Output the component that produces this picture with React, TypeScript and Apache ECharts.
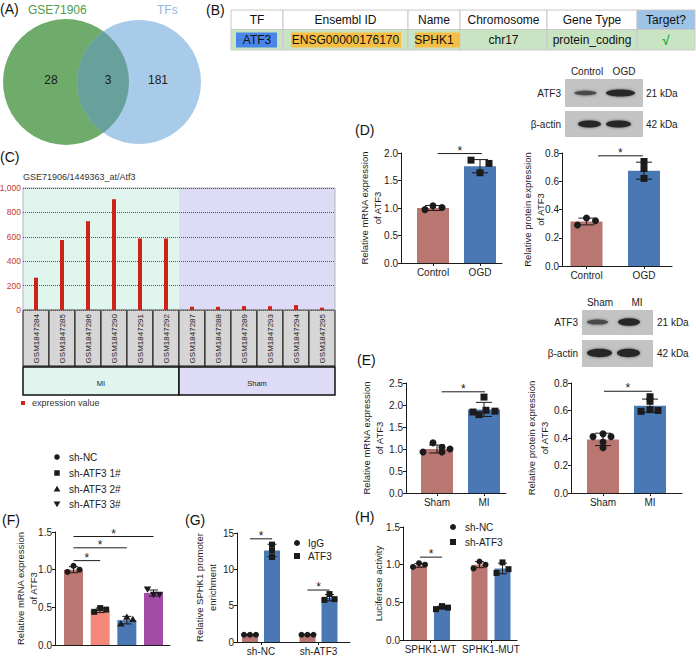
import React, { useEffect, useRef } from "react";
import * as echarts from "echarts";

const FONT = "'Liberation Sans', Arial, Helvetica, sans-serif";
const INK = "#1b1b1b";
const ROSE = "#ba7670";
const BLUE = "#4a78b4";
const SALMON = "#f3887a";
const PURPLE = "#a34ca7";
const MINT = "#e0f5ee";
const LAV = "#dddbf5";

// ---------- (A) Venn ----------
const vennNames = ["GSE71906", "TFs"];
const vennCounts = [28, 3, 181];

// ---------- (B) table ----------
const tableHeaders = ["TF", "Ensembl ID", "Name", "Chromosome", "Gene Type", "Target?"];
const tableValues = ["ATF3", "ENSG00000176170", "SPHK1", "chr17", "protein_coding", "√"];

// ---------- (C) expression profile ----------
const cTitle = "GSE71906/1449363_at/Atf3";
const cSamples = [
  "GSM1847284", "GSM1847285", "GSM1847286", "GSM1847290", "GSM1847291", "GSM1847292",
  "GSM1847287", "GSM1847288", "GSM1847289", "GSM1847293", "GSM1847294", "GSM1847295",
];
const cValues = [265, 574, 728, 908, 586, 586, 27, 26, 32, 31, 40, 19];
const cGroups = ["MI", "Sham"];
const cGroupSizes = [6, 6];
const cLegend = "expression value";

// ---------- western blots ----------
const dLanes = ["Control", "OGD"];
const eLanes = ["Sham", "MI"];
const blotProteins = ["ATF3", "β-actin"];
const blotSizes = ["21 kDa", "42 kDa"];

// ---------- (D) ----------
const dCats = ["Control", "OGD"];
const dMrnaMean = [1.0, 1.76];
const dMrnaSd = [0.045, 0.12];
const dMrnaPts = [[0.97, 1.04, 1.01], [1.87, 1.64, 1.81]];
const dProtMean = [0.315, 0.675];
const dProtSd = [0.024, 0.06];
const dProtPts = [[0.29, 0.34, 0.32], [0.74, 0.69, 0.62]];

// ---------- (E) ----------
const eCats = ["Sham", "MI"];
const eMrnaMean = [1.0, 1.9];
const eMrnaSd = [0.09, 0.16];
const eMrnaPts = [[0.93, 1.14, 1.04, 0.93, 1.0], [1.84, 1.78, 2.18, 1.88, 1.86]];
const eProtMean = [0.39, 0.635];
const eProtSd = [0.045, 0.048];
const eProtPts = [[0.41, 0.43, 0.41, 0.37, 0.33], [0.594, 0.7, 0.667, 0.606, 0.6]];

// ---------- (F) ----------
const fGroups = ["sh-NC", "sh-ATF3 1#", "sh-ATF3 2#", "sh-ATF3 3#"];
const fMean = [1.0, 0.46, 0.33, 0.69];
const fSd = [0.04, 0.03, 0.05, 0.04];
const fPts = [[0.97, 1.05, 1.0], [0.44, 0.49, 0.47], [0.28, 0.37, 0.34], [0.74, 0.67, 0.67]];
const fSig = [[0, 1, 1.12], [0, 2, 1.29], [0, 3, 1.44]];

// ---------- (G) ----------
const gCats = ["sh-NC", "sh-ATF3"];
const gSeries = ["IgG", "ATF3"];
const gMean = [[1.0, 1.0], [12.6, 6.1]];
const gSd = [[0.05, 0.05], [0.85, 0.43]];
const gPts = [[[1.0, 1.0, 1.0], [1.0, 1.0, 1.0]], [[13.4, 12.6, 11.7], [6.6, 5.8, 5.9]]];
const gSig = [[0, 14.2], [1, 7.15]];

// ---------- (H) ----------
const hCats = ["SPHK1-WT", "SPHK1-MUT"];
const hSeries = ["sh-NC", "sh-ATF3"];
const hMean = [[0.99, 1.0], [0.43, 0.95]];
const hSd = [[0.025, 0.04], [0.02, 0.07]];
const hPts = [[[0.97, 1.02, 1.0], [0.95, 1.04, 1.0]], [[0.41, 0.45, 0.43], [0.89, 1.03, 0.94]]];
const hSig = [[0, 1.1]];

// ---------- Venn geometry ----------
const V1 = { cx: 66, cy: 82, r: 63 };
const V2 = { cx: 139, cy: 82, r: 62 };
function lensPath() {
  const d = V2.cx - V1.cx;
  const a = (V1.r * V1.r - V2.r * V2.r + d * d) / (2 * d);
  const h = Math.sqrt(V1.r * V1.r - a * a);
  const ix = V1.cx + a;
  const y1 = V1.cy - h;
  const y2 = V1.cy + h;
  return `M${ix} ${y1} A${V1.r} ${V1.r} 0 0 1 ${ix} ${y2} A${V2.r} ${V2.r} 0 0 1 ${ix} ${y1} Z`;
}
let lensRegistered = false;
function ensureLens() {
  if (lensRegistered) return;
  echarts.graphic.registerShape("vennLens", echarts.graphic.extendPath(lensPath(), {}) as any);
  lensRegistered = true;
}

// ---------- helpers ----------
function txt(t: string, x: number, y: number, size: number, fill: string, align = "left", extra: any = {}) {
  return {
    type: "text",
    x,
    y,
    z: 5,
    style: {
      text: t,
      fontSize: size,
      fontFamily: FONT,
      fill,
      textAlign: align,
      textVerticalAlign: "middle",
      ...extra,
    },
  };
}

function markEl(shape: number, x: number, y: number, s: number, fill: string) {
  const style = { fill };
  if (shape === 0) return { type: "circle", shape: { cx: x, cy: y, r: s / 2 }, style };
  if (shape === 1) return { type: "rect", shape: { x: x - s / 2, y: y - s / 2, width: s, height: s }, style };
  const w = s * 0.62;
  if (shape === 2)
    return { type: "polygon", shape: { points: [[x, y - s * 0.6], [x - w, y + s * 0.45], [x + w, y + s * 0.45]] }, style };
  return { type: "polygon", shape: { points: [[x, y + s * 0.6], [x - w, y - s * 0.45], [x + w, y - s * 0.45]] }, style };
}

type Bar = { x: number; mean: number; sd: number; color: string; pts: number[]; offs: number[]; shape: number };
type Panel = {
  axisX: number; axisEnd: number; yTop: number; y0: number; c0: number; unit: number;
  yMax: number; yStep: number; dec: number;
  ticks: number[]; tickLabels: string[];
  yName: string; nameGap: number;
  barWidth: number; dot: number; cap: number;
  bars: Bar[]; sig: number[][];
};

function singleBars(mean: number[], sd: number[], pts: number[][], offs: number[][], colors: string[], shapes: number[]): Bar[] {
  return mean.map((m, i) => ({ x: i, mean: m, sd: sd[i], color: colors[i], pts: pts[i], offs: offs[i], shape: shapes[i] }));
}

function groupBars(mean: number[][], sd: number[][], pts: number[][][], offs: number[][][], colors: string[], shapes: number[], sub: number): Bar[] {
  const out: Bar[] = [];
  mean.forEach((row, s) => {
    row.forEach((m, c) => {
      out.push({ x: c + (s === 0 ? -sub : sub), mean: m, sd: sd[s][c], color: colors[s], pts: pts[s][c], offs: offs[s][c], shape: shapes[s] });
    });
  });
  return out;
}

function addPanel(p: Panel, grid: any[], xAxis: any[], yAxis: any[], series: any[]) {
  const gi = grid.length;
  grid.push({
    left: p.axisX, top: p.yTop, width: p.axisEnd - p.axisX, height: p.y0 - p.yTop,
    containLabel: false, outerBoundsMode: "none",
  });
  const hasLabels = p.tickLabels.length > 0;
  xAxis.push({
    gridIndex: gi,
    type: "value",
    min: (p.axisX - p.c0) / p.unit,
    max: (p.axisEnd - p.c0) / p.unit,
    axisLine: { show: true, onZero: false, lineStyle: { color: INK, width: 1 } },
    axisTick: { show: hasLabels, customValues: p.ticks, length: 3, lineStyle: { color: INK } },
    axisLabel: {
      show: hasLabels,
      customValues: p.ticks,
      formatter: (v: number) => {
        const k = p.ticks.findIndex((t) => Math.abs(t - v) < 1e-6);
        return k >= 0 ? p.tickLabels[k] : "";
      },
      fontSize: 10, color: INK, margin: 4, fontFamily: FONT,
    },
    splitLine: { show: false },
  });
  yAxis.push({
    gridIndex: gi,
    type: "value",
    min: 0,
    max: p.yMax,
    interval: p.yStep,
    axisLine: { show: true, onZero: false, lineStyle: { color: INK, width: 1 } },
    axisTick: { show: true, length: 3, lineStyle: { color: INK } },
    axisLabel: { formatter: (v: number) => v.toFixed(p.dec), fontSize: 10, color: INK, margin: 3, fontFamily: FONT },
    splitLine: { show: false },
    name: p.yName,
    nameLocation: "middle",
    nameGap: p.nameGap,
    nameRotate: 90,
    nameMoveOverlap: false,
    nameTextStyle: { fontSize: 9.5, lineHeight: 13, color: INK, fontFamily: FONT },
  });
  series.push({
    type: "bar",
    xAxisIndex: gi,
    yAxisIndex: gi,
    barWidth: p.barWidth,
    data: p.bars.map((b) => ({ value: [b.x, b.mean], itemStyle: { color: b.color } })),
    z: 2,
  });
  const cap = p.cap;
  series.push({
    type: "custom",
    xAxisIndex: gi,
    yAxisIndex: gi,
    encode: { x: 0, y: 1 },
    z: 3,
    data: p.bars.map((b) => [b.x, b.mean, b.sd]),
    renderItem: (params: any, api: any) => {
      const x = api.value(0), m = api.value(1), s = api.value(2);
      const t = api.coord([x, m + s]);
      const b = api.coord([x, m - s]);
      const st = { stroke: INK, lineWidth: 1 };
      return {
        type: "group",
        children: [
          { type: "line", shape: { x1: t[0], y1: t[1], x2: b[0], y2: b[1] }, style: st },
          { type: "line", shape: { x1: t[0] - cap, y1: t[1], x2: t[0] + cap, y2: t[1] }, style: st },
          { type: "line", shape: { x1: b[0] - cap, y1: b[1], x2: b[0] + cap, y2: b[1] }, style: st },
        ],
      };
    },
  });
  const dots: number[][] = [];
  p.bars.forEach((b) => b.pts.forEach((v, k) => dots.push([b.x, v, b.offs[k], b.shape, p.dot])));
  series.push({
    type: "custom",
    xAxisIndex: gi,
    yAxisIndex: gi,
    encode: { x: 0, y: 1 },
    z: 4,
    data: dots,
    renderItem: (params: any, api: any) => {
      const c = api.coord([api.value(0), api.value(1)]);
      return markEl(api.value(3), c[0] + api.value(2), c[1], api.value(4), INK);
    },
  });
  series.push({
    type: "custom",
    xAxisIndex: gi,
    yAxisIndex: gi,
    encode: { x: [0, 1], y: 2 },
    z: 4,
    data: p.sig,
    renderItem: (params: any, api: any) => {
      const a = api.coord([api.value(0), api.value(2)]);
      const b = api.coord([api.value(1), api.value(2)]);
      return {
        type: "group",
        children: [
          { type: "line", shape: { x1: a[0], y1: a[1], x2: b[0], y2: b[1] }, style: { stroke: INK, lineWidth: 1 } },
          {
            type: "text",
            x: (a[0] + b[0]) / 2,
            y: a[1] - 3,
            style: { text: "*", fontSize: 12, fontFamily: FONT, fill: INK, textAlign: "center", textVerticalAlign: "middle" },
          },
        ],
      };
    },
  });
}

function blot(g: any[], cfg: any) {
  cfg.rows.forEach((r: number[], i: number) => {
    g.push({ type: "rect", shape: { x: cfg.x0, y: r[0], width: cfg.w, height: r[1] }, style: { fill: "#c3c3c3" } });
    g.push(txt(blotProteins[i], cfg.labelRight, r[0] + r[1] / 2, 10, INK, "right"));
    g.push(txt(blotSizes[i], cfg.sizeLeft, r[0] + r[1] / 2, 10, INK, "left"));
  });
  cfg.lanes.forEach((l: string, i: number) => g.push(txt(l, cfg.laneX[i], cfg.laneY, 10, INK, "center")));
  cfg.bands.forEach((b: number[]) =>
    g.push({
      type: "ellipse",
      z: 1,
      shape: { cx: b[0], cy: b[1], rx: b[2], ry: b[3] },
      style: { fill: b[4] === 1 ? "#262626" : "#4a4a4a", shadowBlur: 3, shadowColor: "rgba(0,0,0,0.55)" },
    })
  );
}

function legend(g: any[], mx: number, tx: number, ys: number[], names: string[], shapes: number[], s: number) {
  names.forEach((n, i) => {
    g.push({ ...markEl(shapes[i], mx, ys[i], s, INK), z: 5 });
    g.push(txt(n, tx, ys[i], 10, INK, "left"));
  });
}

function buildOption() {
  ensureLens();
  const grid: any[] = [];
  const xAxis: any[] = [];
  const yAxis: any[] = [];
  const series: any[] = [];
  const graphic: any[] = [];

  // ---------------- (A) Venn ----------------
  graphic.push({ type: "circle", shape: { cx: V1.cx, cy: V1.cy, r: V1.r }, style: { fill: "#6fac6c" } });
  graphic.push({ type: "circle", shape: { cx: V2.cx, cy: V2.cy, r: V2.r }, style: { fill: "#a8cbe9" } });
  graphic.push({ type: "vennLens", x: 0, y: 0, style: { fill: "#68a19c" } });
  graphic.push(txt(vennNames[0], 28, 10, 12, "#4e9b4c", "left"));
  graphic.push(txt(vennNames[1], 157, 10, 12, "#8db7de", "left"));
  graphic.push(txt(String(vennCounts[0]), 51, 80, 12, INK, "center"));
  graphic.push(txt(String(vennCounts[1]), 108, 80, 12, INK, "center"));
  graphic.push(txt(String(vennCounts[2]), 158, 80, 12, INK, "center"));

  // ---------------- (B) table ----------------
  const cols = [231, 283, 408, 460, 547, 637, 695];
  const hy = 10, hh = 19.5, dy = 29.5, dh = 20.5;
  tableHeaders.forEach((h, j) => {
    const x = cols[j], w = cols[j + 1] - cols[j];
    graphic.push({ type: "rect", shape: { x, y: hy, width: w, height: hh }, style: { fill: j === 5 ? "#9dc3e6" : "#ffffff", stroke: "#c8c8c8", lineWidth: 1 } });
    graphic.push({ type: "rect", shape: { x, y: dy, width: w, height: dh }, style: { fill: "#c9e4c3", stroke: "#c8c8c8", lineWidth: 1 } });
  });
  const hl = [[236, 41, "#4a86e8"], [291, 110, "#f5bf45"], [415, 45, "#f5bf45"]];
  hl.forEach((h: any) => graphic.push({ type: "rect", shape: { x: h[0], y: 32.5, width: h[1], height: 15 }, style: { fill: h[2] } }));
  tableHeaders.forEach((h, j) => {
    const cx = (cols[j] + cols[j + 1]) / 2;
    graphic.push(txt(h, cx, hy + hh / 2 + 0.5, 12, "#111", "center"));
    const isCheck = j === 5;
    graphic.push(txt(tableValues[j], cx, dy + dh / 2 + 0.5, isCheck ? 13 : 12, isCheck ? "#14b04a" : "#111", "center", isCheck ? { fontWeight: "bold" } : {}));
  });

  // ---------------- panel labels ----------------
  const plabels: any[] = [["(A)", 0, 9], ["(B)", 206, 10], ["(C)", 0, 157], ["(D)", 355, 130], ["(E)", 357, 360], ["(F)", 2, 520], ["(G)", 185, 520], ["(H)", 355, 517]];
  plabels.forEach((p) => graphic.push(txt(p[0], p[1], p[2], 14, "#111", "left")));

  // ---------------- (C) ----------------
  const CL = 23, CT = 188, CW = 312, CH = 122;
  grid.push({ left: CL, top: CT, width: CW, height: CH, show: true, borderColor: "#b3b3b3", borderWidth: 1, containLabel: false, outerBoundsMode: "none" });
  xAxis.push({
    gridIndex: 0, type: "category", data: cSamples, boundaryGap: true,
    axisLine: { show: false }, axisTick: { show: false }, splitLine: { show: false },
    axisLabel: { interval: 0, rotate: 90, fontSize: 8, color: "#222", margin: 4, fontFamily: FONT },
  });
  yAxis.push({
    gridIndex: 0, type: "value", min: 0, max: 1000, interval: 200,
    axisLine: { show: false }, axisTick: { show: false },
    axisLabel: { fontSize: 8.5, color: "#c8372d", margin: 2, fontFamily: FONT },
    splitLine: { show: true, lineStyle: { type: "dotted", color: "#555", width: 1 } },
  });
  series.push({ type: "bar", xAxisIndex: 0, yAxisIndex: 0, data: cValues, barWidth: 4, itemStyle: { color: "#cc2418" }, z: 2 });
  const cw = CW / cSamples.length;
  let start = 0;
  cGroups.forEach((gname, k) => {
    const n = cGroupSizes[k];
    const fill = k === 0 ? MINT : LAV;
    graphic.push({ type: "rect", z: -1, shape: { x: CL + start * cw, y: CT, width: n * cw, height: CH }, style: { fill } });
    graphic.push({ type: "rect", z: -1, shape: { x: CL + start * cw, y: 367, width: n * cw, height: 28 }, style: { fill, stroke: "#111", lineWidth: 1.5 } });
    graphic.push(txt(gname, CL + (start + n / 2) * cw, 383, 7.5, "#222", "center"));
    start += n;
  });
  cSamples.forEach((_, i) =>
    graphic.push({ type: "rect", z: -1, shape: { x: CL + i * cw, y: CT + CH, width: cw, height: 56 }, style: { fill: "#d6d6d6", stroke: "#111", lineWidth: 1 } })
  );
  graphic.push(txt(cTitle, 23, 177, 9, "#333", "left"));
  graphic.push({ type: "rect", shape: { x: 21, y: 401, width: 4, height: 4 }, style: { fill: "#cc2418" } });
  graphic.push(txt(cLegend, 32, 403, 9, "#333", "left"));

  // ---------------- blots ----------------
  blot(graphic, {
    x0: 565, w: 78, rows: [[79, 28], [111, 26]], labelRight: 561, sizeLeft: 646,
    lanes: dLanes, laneX: [587, 624], laneY: 71,
    bands: [[585.5, 93, 11, 2.2, 0], [620.5, 93, 14.5, 3.5, 1], [589.5, 124, 11.5, 3.6, 1], [618.5, 124, 12.5, 3.6, 1]],
  });
  blot(graphic, {
    x0: 582, w: 71, rows: [[310, 25], [340, 27]], labelRight: 578, sizeLeft: 657,
    lanes: eLanes, laneX: [600, 637], laneY: 302,
    bands: [[597.5, 322, 10.5, 2.6, 0], [629, 322, 11, 3.8, 1], [599.5, 353, 12.5, 4.2, 1], [628.5, 353, 11.5, 4.2, 1]],
  });

  // ---------------- bar panels ----------------
  const mrnaName = "Relative mRNA expression\nof ATF3";
  const protName = "Relative protein expression\nof ATF3";
  const panels: Panel[] = [
    {
      axisX: 401, axisEnd: 502, yTop: 153, y0: 263, c0: 433, unit: 47, yMax: 2, yStep: 0.5, dec: 1,
      ticks: [0, 1], tickLabels: dCats, yName: mrnaName, nameGap: 17.5, barWidth: 32, dot: 7, cap: 8,
      bars: singleBars(dMrnaMean, dMrnaSd, dMrnaPts, [[-8, 0, 9], [-9, 0, 9]], [ROSE, BLUE], [0, 1]),
      sig: [[0.1, 1.04, 1.99]],
    },
    {
      axisX: 562, axisEnd: 672, yTop: 153, y0: 266, c0: 586.5, unit: 57.5, yMax: 0.8, yStep: 0.2, dec: 1,
      ticks: [0, 1], tickLabels: dCats, yName: protName, nameGap: 15.5, barWidth: 32, dot: 7, cap: 8,
      bars: singleBars(dProtMean, dProtSd, dProtPts, [[-9, 0, 9], [0, 0, 0]], [ROSE, BLUE], [0, 1]),
      sig: [[0.2, 0.98, 0.78]],
    },
    {
      axisX: 406, axisEnd: 506, yTop: 383, y0: 493, c0: 437, unit: 47, yMax: 2.5, yStep: 0.5, dec: 1,
      ticks: [0, 1], tickLabels: eCats, yName: mrnaName, nameGap: 20.5, barWidth: 32, dot: 7, cap: 8,
      bars: singleBars(eMrnaMean, eMrnaSd, eMrnaPts, [[-14, -4, 5, 5, 13], [-11, -5, 0, 2, 11]], [ROSE, BLUE], [0, 1]),
      sig: [[0.1, 1.02, 2.3]],
    },
    {
      axisX: 571, axisEnd: 682, yTop: 383, y0: 493, c0: 603, unit: 47, yMax: 0.8, yStep: 0.2, dec: 1,
      ticks: [0, 1], tickLabels: eCats, yName: protName, nameGap: 20, barWidth: 32, dot: 7, cap: 8,
      bars: singleBars(eProtMean, eProtSd, eProtPts, [[-10, 0, 8, 0, 0], [-9, 0, 0, 0, 8]], [ROSE, BLUE], [0, 1]),
      sig: [[0.02, 1.04, 0.74]],
    },
    {
      axisX: 55, axisEnd: 170, yTop: 532, y0: 645, c0: 73.5, unit: 26.67, yMax: 1.5, yStep: 0.5, dec: 1,
      ticks: [0, 1, 2, 3], tickLabels: [], yName: mrnaName, nameGap: 15.5, barWidth: 19, dot: 6, cap: 4.5,
      bars: singleBars(fMean, fSd, fPts, [[-6, 0, 6], [-6, 0, 6], [-6, 0, 6], [-6, 0, 6]], [ROSE, SALMON, BLUE, PURPLE], [0, 1, 2, 3]),
      sig: fSig,
    },
    {
      axisX: 237, axisEnd: 350, yTop: 533, y0: 642, c0: 261, unit: 57.5, yMax: 15, yStep: 5, dec: 0,
      ticks: [0, 1], tickLabels: gCats, yName: "Relative SPHK1 promoter\nenrichment", nameGap: 18.5, barWidth: 16, dot: 6, cap: 4.5,
      bars: groupBars(gMean, gSd, gPts, [[[-6, 0, 6], [-6, 0, 6]], [[0, 0, 0], [0, -5, 5]]], [ROSE, BLUE], [0, 1], 11 / 57.5),
      sig: gSig.map((s) => [s[0] - 11 / 57.5, s[0] + 11 / 57.5, s[1]]),
    },
    {
      axisX: 403, axisEnd: 517, yTop: 527, y0: 640, c0: 430.5, unit: 60.5, yMax: 1.5, yStep: 0.5, dec: 1,
      ticks: [0, 1], tickLabels: hCats, yName: "Luciferase activity", nameGap: 18.5, barWidth: 16, dot: 6, cap: 4.5,
      bars: groupBars(hMean, hSd, hPts, [[[-6, 0, 6], [-6, 0, 6]], [[-6, 0, 6], [-6, 0, 6]]], [ROSE, BLUE], [0, 1], 11.5 / 60.5),
      sig: hSig.map((s) => [s[0] - 10.5 / 60.5, s[0] + 11.5 / 60.5, s[1]]),
    },
  ];
  panels.forEach((p) => addPanel(p, grid, xAxis, yAxis, series));

  // ---------------- legends ----------------
  legend(graphic, 57, 69, [457, 473, 489, 504], fGroups, [0, 1, 2, 3], 5.5);
  legend(graphic, 297, 308, [543, 556], gSeries, [0, 1], 6);
  legend(graphic, 453, 465, [527, 542], hSeries, [0, 1], 6);

  return {
    animation: false,
    backgroundColor: "#ffffff",
    textStyle: { fontFamily: FONT },
    grid,
    xAxis,
    yAxis,
    series,
    graphic: { elements: graphic },
  };
}

export default function App() {
  const ref = useRef<HTMLDivElement>(null);
  useEffect(() => {
    if (!ref.current) return;
    const chart = echarts.init(ref.current, undefined, { renderer: "svg" });
    chart.setOption(buildOption() as any);
    return () => {
      chart.dispose();
    };
  }, []);
  return <div ref={ref} style={{ position: "absolute", left: 0, top: 0, width: 696, height: 656, background: "#fff" }} />;
}
